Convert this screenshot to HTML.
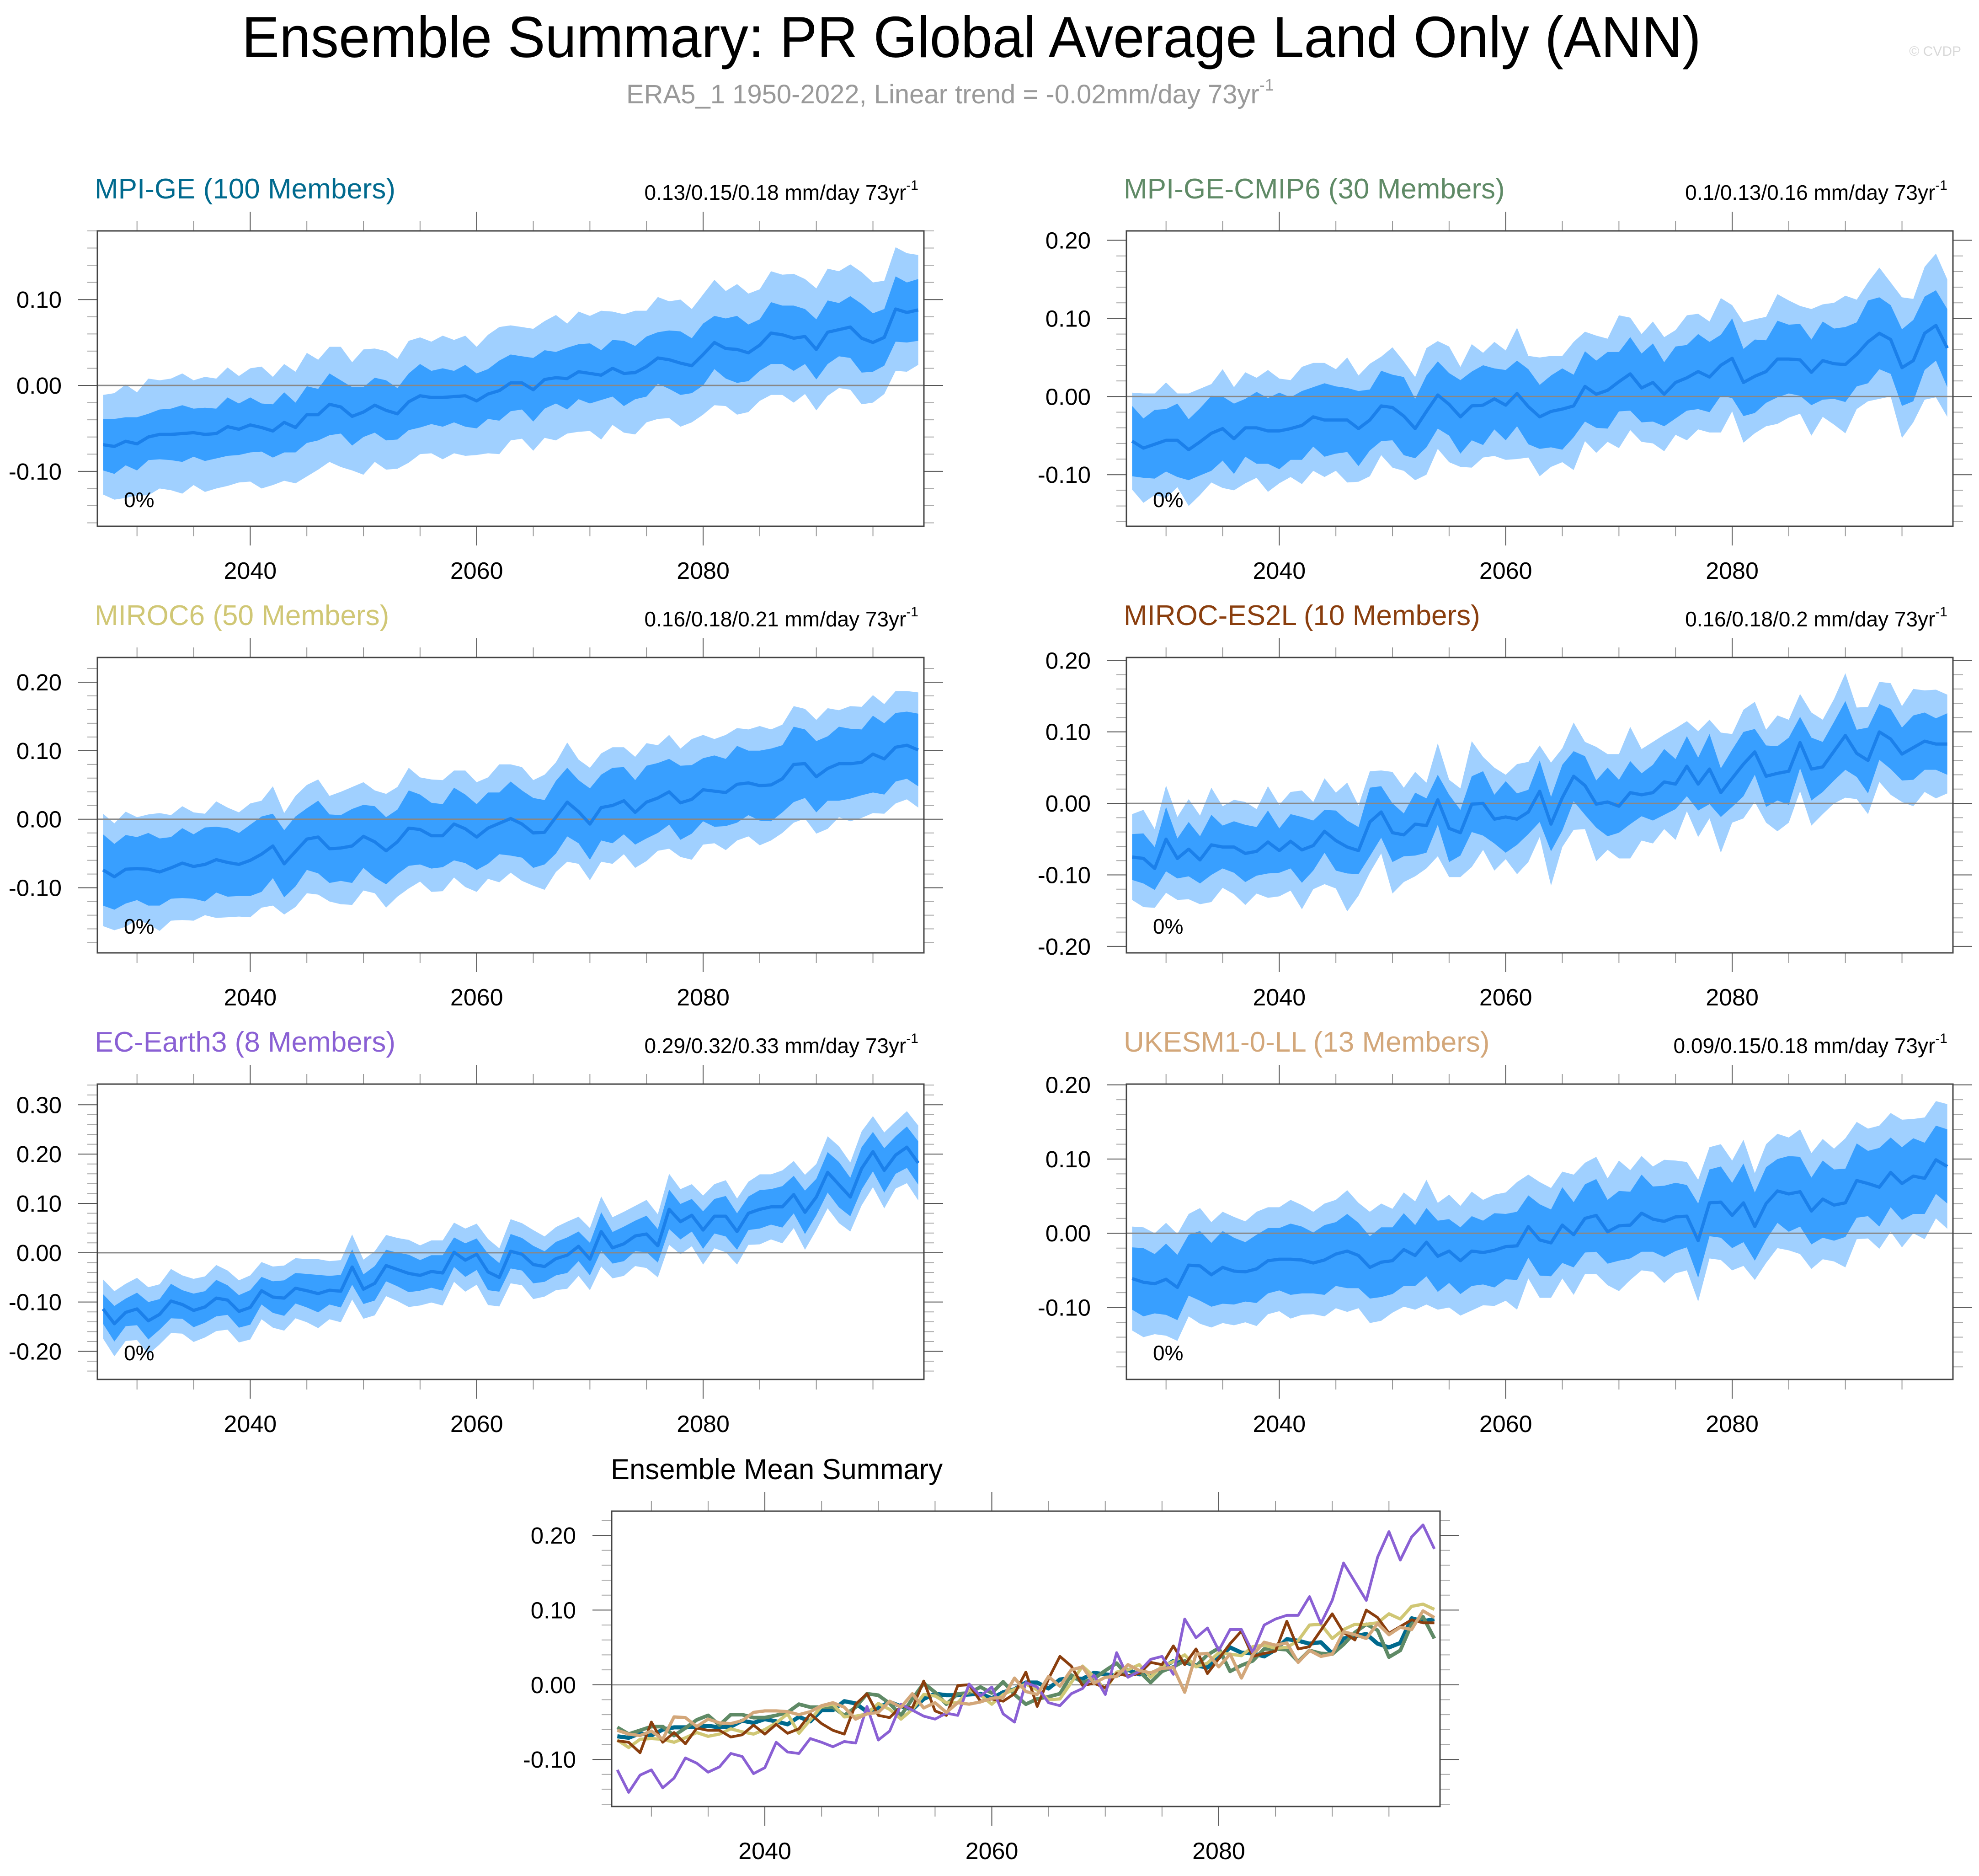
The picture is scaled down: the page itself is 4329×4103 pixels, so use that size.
<!DOCTYPE html>
<html><head><meta charset="utf-8"><title>Ensemble Summary: PR Global Average Land Only (ANN)</title>
<style>html,body{margin:0;padding:0;background:#fff}svg{display:block}text{font-family:"Liberation Sans",Arial,sans-serif}</style>
</head><body>
<svg id="fig" xmlns="http://www.w3.org/2000/svg" width="4329" height="4103" viewBox="0 0 4329 4103">
<text x="2125" y="125" font-size="127" text-anchor="middle" textLength="3192" lengthAdjust="spacingAndGlyphs">Ensemble Summary: PR Global Average Land Only (ANN)</text>
<text x="1370" y="226" font-size="58" fill="#999">ERA5_1 1950-2022, Linear trend = -0.02mm/day 73yr<tspan font-size="36" dy="-28">-1</tspan></text>
<text x="4290" y="122" font-size="30" fill="#d8d8d8" text-anchor="end">© CVDP</text>
<g id="panels"></g>
</svg>
<script>
const years = [];
for (let y = 2027; y <= 2099; y++) years.push(y);

const meanMPIGE = [-0.069,-0.071,-0.065,-0.068,-0.060,-0.057,-0.057,-0.056,-0.055,-0.057,-0.056,-0.048,-0.051,-0.046,-0.049,-0.053,-0.043,-0.049,-0.034,-0.034,-0.022,-0.025,-0.036,-0.031,-0.023,-0.029,-0.033,-0.019,-0.012,-0.014,-0.014,-0.013,-0.012,-0.018,-0.010,-0.006,0.003,0.003,-0.005,0.007,0.009,0.008,0.016,0.014,0.012,0.020,0.014,0.015,0.022,0.032,0.030,0.026,0.023,0.036,0.050,0.043,0.042,0.038,0.047,0.061,0.059,0.055,0.057,0.042,0.062,0.065,0.068,0.055,0.050,0.056,0.089,0.085,0.088];
const meanCMIP6 = [-0.057,-0.066,-0.061,-0.056,-0.056,-0.068,-0.058,-0.047,-0.041,-0.054,-0.040,-0.040,-0.044,-0.044,-0.041,-0.037,-0.026,-0.030,-0.030,-0.030,-0.041,-0.030,-0.012,-0.014,-0.025,-0.041,-0.019,0.002,-0.010,-0.026,-0.012,-0.011,-0.003,-0.011,0.004,-0.013,-0.026,-0.019,-0.016,-0.012,0.013,0.003,0.008,0.019,0.029,0.011,0.018,0.003,0.018,0.024,0.032,0.025,0.040,0.049,0.018,0.026,0.032,0.048,0.048,0.047,0.031,0.046,0.042,0.041,0.054,0.070,0.081,0.073,0.037,0.046,0.081,0.091,0.062];
const meanMIROC6 = [-0.074,-0.084,-0.073,-0.072,-0.073,-0.077,-0.071,-0.064,-0.069,-0.066,-0.059,-0.063,-0.066,-0.060,-0.051,-0.039,-0.065,-0.047,-0.029,-0.026,-0.043,-0.042,-0.039,-0.025,-0.033,-0.046,-0.033,-0.013,-0.015,-0.024,-0.024,-0.007,-0.014,-0.026,-0.013,-0.006,0.001,-0.007,-0.020,-0.019,0.003,0.025,0.011,-0.007,0.017,0.020,0.027,0.010,0.025,0.031,0.040,0.024,0.029,0.043,0.041,0.039,0.051,0.053,0.049,0.050,0.059,0.080,0.081,0.062,0.074,0.081,0.081,0.083,0.095,0.088,0.105,0.108,0.101];
const meanES2L = [-0.075,-0.077,-0.091,-0.050,-0.077,-0.064,-0.079,-0.058,-0.061,-0.061,-0.070,-0.067,-0.054,-0.066,-0.053,-0.065,-0.059,-0.039,-0.052,-0.061,-0.066,-0.026,-0.012,-0.041,-0.044,-0.029,-0.031,0.005,-0.035,-0.041,-0.001,0.000,-0.022,-0.019,-0.022,-0.012,0.017,-0.029,0.008,0.038,0.025,-0.001,0.002,-0.004,0.015,0.012,0.015,0.030,0.027,0.052,0.027,0.048,0.015,0.035,0.055,0.072,0.038,0.042,0.045,0.085,0.048,0.051,0.073,0.095,0.070,0.060,0.100,0.090,0.069,0.078,0.087,0.083,0.083];
const meanECE3 = [-0.114,-0.144,-0.121,-0.114,-0.138,-0.125,-0.098,-0.105,-0.117,-0.110,-0.092,-0.096,-0.119,-0.111,-0.077,-0.090,-0.092,-0.072,-0.077,-0.083,-0.076,-0.078,-0.029,-0.074,-0.062,-0.026,-0.034,-0.042,-0.046,-0.038,-0.041,0.001,-0.015,-0.003,-0.039,-0.050,0.003,-0.003,-0.024,-0.028,-0.012,-0.005,0.013,-0.013,0.043,0.010,0.018,0.034,0.038,0.014,0.088,0.063,0.076,0.046,0.074,0.074,0.043,0.080,0.088,0.093,0.093,0.118,0.082,0.113,0.163,0.138,0.113,0.171,0.205,0.167,0.198,0.214,0.182];
const meanUKESM = [-0.061,-0.066,-0.068,-0.062,-0.073,-0.043,-0.044,-0.056,-0.046,-0.051,-0.052,-0.048,-0.037,-0.035,-0.035,-0.036,-0.040,-0.036,-0.028,-0.024,-0.030,-0.046,-0.039,-0.037,-0.022,-0.030,-0.012,-0.031,-0.024,-0.037,-0.024,-0.026,-0.023,-0.018,-0.017,0.009,-0.009,-0.013,0.011,-0.002,0.020,0.024,0.002,0.010,0.011,0.027,0.019,0.016,0.022,0.023,-0.010,0.041,0.042,0.024,0.041,0.009,0.040,0.057,0.053,0.056,0.030,0.046,0.038,0.041,0.071,0.067,0.062,0.082,0.067,0.077,0.074,0.099,0.090];

// inner (25-75%) and outer (10-90%) half-widths in 1/1000 mm/day
const innerMPIGE = [30,32,28,31,27,29,30,33,28,31,29,34,30,32,28,31,35,29,33,30,36,31,34,29,32,35,30,33,37,31,34,30,36,32,29,35,33,31,37,34,30,36,32,35,29,33,38,31,35,30,34,37,32,36,31,35,39,33,30,36,34,38,32,35,37,31,36,40,34,33,38,35,36];
const outerMPIGE = [58,62,66,60,68,63,65,70,61,67,64,69,62,66,71,63,68,65,72,64,67,70,63,73,66,69,64,71,68,65,72,66,70,63,69,74,67,65,71,68,73,64,70,67,75,66,69,72,65,71,68,74,66,70,73,67,76,69,65,72,70,75,67,71,74,68,73,77,70,66,72,69,64];
const innerCMIP6 = [45,38,44,40,47,39,43,48,41,45,37,46,42,49,40,44,38,47,43,41,48,39,45,42,50,38,46,43,40,47,44,51,39,45,42,48,41,46,52,40,45,43,49,38,47,44,50,41,46,42,48,45,39,51,43,47,40,49,44,46,42,50,45,48,41,53,46,44,49,52,47,45,50];
const outerCMIP6 = [62,70,65,74,60,72,68,63,76,66,71,64,78,67,62,75,69,73,65,80,68,72,63,77,70,66,81,69,74,64,79,67,73,70,84,65,76,71,68,82,70,75,66,85,72,69,78,73,67,80,74,71,86,68,77,73,70,83,75,69,81,72,78,88,70,76,84,73,90,79,85,92,88];
const innerMIROC6 = [52,48,50,46,53,49,45,51,47,54,48,50,46,52,55,47,49,51,45,53,50,48,54,46,52,49,47,55,51,48,46,53,50,48,52,45,54,49,51,47,53,50,46,52,48,55,49,47,53,51,48,54,50,46,52,49,56,47,51,53,49,55,50,52,47,54,51,48,56,52,50,49,53];
const outerMIROC6 = [82,78,84,75,80,86,77,83,79,74,85,80,76,83,78,87,74,81,79,84,77,82,86,79,75,83,80,88,76,82,81,78,85,80,74,86,79,83,77,84,80,87,76,82,79,85,78,81,86,77,83,79,88,80,76,84,82,78,87,81,79,85,80,83,88,78,84,81,86,80,82,79,84];
const innerES2L = [32,35,30,45,28,38,33,42,30,36,40,34,44,31,38,46,35,30,42,37,33,48,36,41,30,44,38,35,47,32,39,45,34,50,36,31,43,38,46,35,41,33,48,37,44,30,39,46,35,42,37,49,34,40,45,32,43,38,47,36,44,35,41,48,33,46,39,42,37,45,40,36,43];
const outerES2L = [60,68,55,75,58,70,62,80,57,66,72,59,78,64,69,83,61,74,67,90,63,71,58,85,66,73,60,79,68,62,88,65,72,59,77,70,64,86,69,75,61,80,67,73,92,64,71,66,78,63,74,69,84,62,76,70,65,81,72,68,79,66,73,87,64,75,70,78,67,82,71,76,69];
const innerECE3 = [30,36,28,33,38,31,35,29,34,32,37,30,33,35,28,32,36,31,34,38,29,33,36,30,35,32,34,38,31,33,36,30,34,32,37,29,35,33,38,31,34,36,30,33,39,32,35,31,37,34,40,36,33,38,35,41,37,34,39,36,42,38,44,37,41,46,39,43,40,45,38,42,44];
const outerECE3 = [60,66,58,63,68,61,65,59,64,62,67,60,63,65,58,62,66,61,64,70,59,63,66,60,65,62,64,68,61,63,66,60,64,62,67,59,65,63,70,61,64,68,60,63,71,62,65,61,69,64,72,66,63,70,65,73,67,64,71,66,74,68,76,67,73,78,70,75,72,77,68,73,76];
const innerUKESM = [42,46,40,48,44,41,47,43,49,45,40,46,44,42,48,45,41,47,43,50,44,42,47,45,49,41,46,48,43,45,47,43,50,44,46,42,48,45,51,44,46,49,43,47,45,52,44,48,46,42,50,45,48,44,53,46,49,43,51,47,45,52,48,46,50,44,53,47,49,51,48,46,50];
const outerUKESM = [70,74,68,76,72,69,78,71,75,73,68,77,72,70,80,74,69,76,73,82,71,75,79,70,77,73,84,72,76,74,80,71,75,73,86,70,78,74,72,81,75,79,72,88,74,77,71,83,76,73,82,75,78,74,85,72,80,77,76,84,78,81,76,87,79,74,83,80,86,77,82,79,84];

const modelNames = ["MPI-GE (100 Members)","MPI-GE-CMIP6 (30 Members)","MIROC6 (50 Members)","MIROC-ES2L (10 Members)","EC-Earth3 (8 Members)","UKESM1-0-LL (13 Members)"];
const trendLabels = ["0.13/0.15/0.18 mm/day 73yr","0.1/0.13/0.16 mm/day 73yr","0.16/0.18/0.21 mm/day 73yr","0.16/0.18/0.2 mm/day 73yr","0.29/0.32/0.33 mm/day 73yr","0.09/0.15/0.18 mm/day 73yr"];
const xTickLabels = [2040, 2060, 2080];
const yTicks1 = [0.10, 0.00, -0.10];
const yTicks2 = [0.20, 0.10, 0.00, -0.10];
const yTicks4 = [0.20, 0.10, 0.00, -0.10, -0.20];
const yTicks5 = [0.30, 0.20, 0.10, 0.00, -0.10, -0.20];

const means = [meanMPIGE, meanCMIP6, meanMIROC6, meanES2L, meanECE3, meanUKESM];
const inners = [innerMPIGE, innerCMIP6, innerMIROC6, innerES2L, innerECE3, innerUKESM];
const outers = [outerMPIGE, outerCMIP6, outerMIROC6, outerES2L, outerECE3, outerUKESM];
const modelColors = ["#006a8e","#5f8a66","#d0c775","#8a3e0e","#8a60d4","#d3a77a"];

const layout = [
  {x:213,y:505,ymin:-0.164,ymax:0.180,ticks:yTicks1},
  {x:2464,y:505,ymin:-0.166,ymax:0.212,ticks:yTicks2},
  {x:213,y:1438,ymin:-0.195,ymax:0.236,ticks:yTicks2},
  {x:2464,y:1438,ymin:-0.209,ymax:0.204,ticks:yTicks4},
  {x:213,y:2371,ymin:-0.257,ymax:0.342,ticks:yTicks5},
  {x:2464,y:2371,ymin:-0.197,ymax:0.201,ticks:yTicks2}
];
const PW = 1808, PH = 646;
const NS = "http://www.w3.org/2000/svg";
const root = document.getElementById('panels');

function mk(tag, attrs, parent) {
  const e = document.createElementNS(NS, tag);
  for (const k in attrs) e.setAttribute(k, attrs[k]);
  parent.appendChild(e);
  return e;
}

function axes(px, py, w, h, ymin, ymax) {
  const sx = yr => px + (yr - 2026.5) / 73 * w;
  const sy = v => py + (ymax - v) / (ymax - ymin) * h;
  return {sx, sy};
}

function drawFrame(g, px, py, w, h, ymin, ymax, ticks, sx, sy, name) {
  for (let yr = 2030; yr <= 2095; yr += 5) {
    const major = yr % 20 === 0;
    const L = major ? 42 : 22;
    const x = sx(yr);
    const t1 = mk('line', {x1:x, y1:py, x2:x, y2:py - L, stroke: major ? '#555' : '#999', 'stroke-width':2}, g);
    
    
    const t2 = mk('line', {x1:x, y1:py + h, x2:x, y2:py + h + L, stroke: major ? '#555' : '#999', 'stroke-width':2}, g);
    
    
  }
  xTickLabels.forEach(yr => {
    const t = mk('text', {x:sx(yr), y:py + h + 115, 'font-size':52, 'text-anchor':'middle'}, g);
    t.textContent = yr;
    
    
  });
  const start = Math.ceil(ymin / 0.02 - 1e-6), end = Math.floor(ymax / 0.02 + 1e-6);
  for (let k = start; k <= end; k++) {
    const v = k * 0.02;
    const y = sy(v);
    const major = Math.abs(k % 5) === 0;
    const L = major ? 42 : 22;
    const a = mk('line', {x1:px, y1:y, x2:px - L, y2:y, stroke: major ? '#555' : '#aaa', 'stroke-width':2}, g);
    
    
    const b = mk('line', {x1:px + w, y1:y, x2:px + w + L, y2:y, stroke: major ? '#555' : '#aaa', 'stroke-width':2}, g);
    
    
  }
  ticks.forEach(v => {
    const t = mk('text', {x:px - 78, y:sy(v) + 18, 'font-size':51, 'text-anchor':'end'}, g);
    t.textContent = v.toFixed(2);
    
    
  });
  const fr = mk('rect', {x:px, y:py, width:w, height:h, fill:'none', stroke:'#444', 'stroke-width':3}, g);
  
  
}

function band(g, lo, hi, sx, sy, fill, nm) {
  let d = '';
  years.forEach((yr, i) => { d += (i ? 'L' : 'M') + sx(yr).toFixed(1) + ',' + sy(hi[i]).toFixed(1); });
  for (let i = years.length - 1; i >= 0; i--) d += 'L' + sx(years[i]).toFixed(1) + ',' + sy(lo[i]).toFixed(1);
  const p = mk('path', {d: d + 'Z', fill: fill}, g);
  
  
}

function line(g, vals, sx, sy, color, w, nm) {
  let d = '';
  years.forEach((yr, i) => { d += (i ? 'L' : 'M') + sx(yr).toFixed(1) + ',' + sy(vals[i]).toFixed(1); });
  const p = mk('path', {d: d, fill:'none', stroke: color, 'stroke-width': w, 'stroke-linejoin':'round'}, g);
  
  
}

layout.forEach((L, m) => {
  const g = mk('g', {}, root);
  const nm = 'panel-' + (m + 1);
  
  
  const {sx, sy} = axes(L.x, L.y, PW, PH, L.ymin, L.ymax);
  const mean = means[m], inn = inners[m], out = outers[m];
  const lo2 = mean.map((v, i) => v - out[i] / 1000), hi2 = mean.map((v, i) => v + out[i] / 1000);
  const lo1 = mean.map((v, i) => v - inn[i] / 1000), hi1 = mean.map((v, i) => v + inn[i] / 1000);
  band(g, lo2, hi2, sx, sy, '#a0d0ff', nm + '-outer-band');
  band(g, lo1, hi1, sx, sy, '#389fff', nm + '-inner-band');
  const z = mk('line', {x1:L.x, y1:sy(0), x2:L.x + PW, y2:sy(0), stroke:'#888', 'stroke-width':3}, g);
  
  
  line(g, mean, sx, sy, '#1b80ea', 7, nm + '-mean-line');
  drawFrame(g, L.x, L.y, PW, PH, L.ymin, L.ymax, L.ticks, sx, sy, nm);
  const t = mk('text', {x:L.x - 6, y:L.y - 71, 'font-size':62, fill:modelColors[m]}, g);
  t.textContent = modelNames[m];
  
  
  const tr = mk('text', {x:L.x + PW - 12, y:L.y - 68, 'font-size':46, 'text-anchor':'end'}, g);
  tr.textContent = trendLabels[m];
  const sup = mk('tspan', {'font-size':30, dy:-22}, tr);
  sup.textContent = '-1';
  
  
  const pc = mk('text', {x:L.x + 58, y:L.y + PH - 42, 'font-size':46}, g);
  pc.textContent = '0%';
  
  
});

(function(){
  const px = 1338, py = 3305, w = 1812, h = 646, ymin = -0.163, ymax = 0.2325;
  const g = mk('g', {}, root);
  
  
  const {sx, sy} = axes(px, py, w, h, ymin, ymax);
  const z = mk('line', {x1:px, y1:sy(0), x2:px + w, y2:sy(0), stroke:'#999', 'stroke-width':3}, g);
  
  
  const widths = [9, 8, 7, 6, 6, 7];
  means.forEach((mv, m) => line(g, mv, sx, sy, modelColors[m], widths[m], 'summary-line-' + (m + 1)));
  drawFrame(g, px, py, w, h, ymin, ymax, yTicks2, sx, sy, 'summary');
  const t = mk('text', {x:1336, y:3235, 'font-size':63, textLength:726, lengthAdjust:'spacingAndGlyphs'}, g);
  t.textContent = 'Ensemble Mean Summary';
  
  
})();
</script>
</body></html>
